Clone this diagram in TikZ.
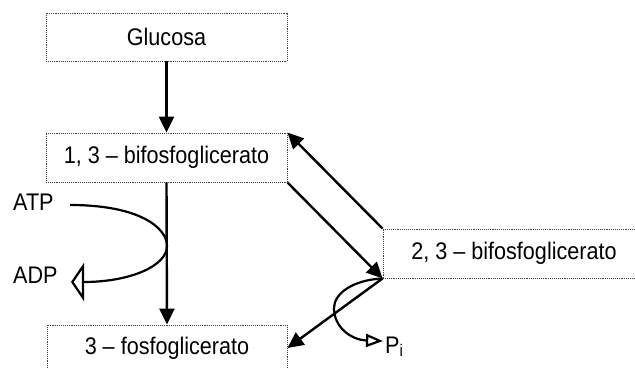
\documentclass[tikz,border=0pt]{standalone}
\usepackage{fontspec}
\setmainfont{Liberation Sans}[FakeStretch=0.9]
\usetikzlibrary{arrows.meta}
\begin{document}
\begin{tikzpicture}[x=1pt,y=-1pt,
  box/.style={draw=black!75, densely dotted, line width=0.9pt, inner sep=0pt,
              font=\fontsize{24}{26}\selectfont},
  lbl/.style={inner sep=0pt, font=\fontsize{24}{26}\selectfont},
  flow/.style={line width=2.4pt, -{Triangle[length=16pt,width=15pt]}},
  curveline/.style={line width=2.2pt}]
\useasboundingbox (0,0) rectangle (635,368);
\node[box, minimum width=241pt, minimum height=48pt] (glu) at (166.5,37) {Glucosa};
\node[box, minimum width=241pt, minimum height=49pt] (b13) at (166.5,157.5) {1, 3 -- bifosfoglicerato};
\node[box, minimum width=262pt, minimum height=49pt] (b23) at (514,253.5) {2, 3 -- bifosfoglicerato};
\node[box, minimum width=240pt, minimum height=46pt] (f3) at (167,348) {3 -- fosfoglicerato};
\node[lbl, anchor=base west] (atp) at (13,210) {ATP};
\node[lbl, anchor=base west] (adp) at (13,283) {ADP};
\node[lbl, anchor=base west] (pi) at (385,353) {P\textsubscript{i}};
\draw[flow] (glu.south) -- (b13.north);
\draw[flow] (b13.south) -- (f3.north);
\draw[flow] (b23.north west) -- (b13.north east);
\draw[flow] (b13.south east) -- (b23.south west);
\draw[flow] (b23.south west) -- (f3.east);
\coordinate (atps) at (70,205);
\coordinate (atpm) at (167,246);
\coordinate (adpe) at (71,282);
\draw[curveline, -{Triangle[open,length=13pt,width=38pt]}]
  (atps) .. controls (140,205) and (167,228) .. (atpm)
  .. controls (167,266) and (130,282) .. (adpe);
\coordinate (pim) at (334,308);
\coordinate (pie) at (383,341);
\draw[curveline, -{Triangle[open,length=17pt,width=13pt]}]
  (b23.south west) .. controls (352,280) and (334,294) .. (pim)
  .. controls (334,328) and (352,340) .. (pie);
\end{tikzpicture}
\end{document}
